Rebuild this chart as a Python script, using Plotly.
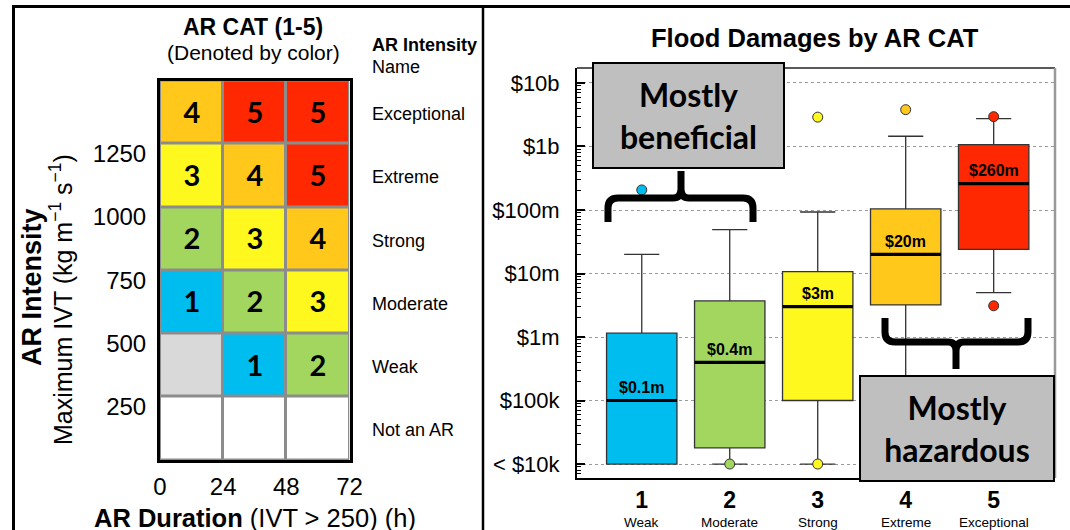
import numpy as np
import plotly.graph_objects as go

W, H = 1070, 530

# ---------------- AR CAT matrix (left panel) ----------------
duration_edges = [0, 24, 48, 72]
ivt_edges = [0, 250, 500, 750, 1000, 1250, 1500]
# rows from the lowest IVT bin upward; -1 = not an AR, 0 = no category
cat_matrix = [
    [-1, -1, -1],
    [0, 1, 2],
    [1, 2, 3],
    [2, 3, 4],
    [3, 4, 5],
    [4, 5, 5],
]
intensity_names = ["Not an AR", "Weak", "Moderate", "Strong", "Extreme", "Exceptional"]
ivt_ticks = [250, 500, 750, 1000, 1250]
duration_ticks = [0, 24, 48, 72]

# ---------------- Flood damages (right panel) ----------------
categories = [1, 2, 3, 4, 5]
category_names = ["Weak", "Moderate", "Strong", "Extreme", "Exceptional"]
cat_colors = ["#00BDF0", "#A3D65E", "#FFF81E", "#FFC81A", "#FF2800"]
q1 = [1e4, 1.8e4, 1e5, 3.2e6, 2.4e7]
median = [1e5, 4e5, 3e6, 2e7, 2.6e8]
q3 = [1.15e6, 3.7e6, 1.07e7, 1.04e8, 1.07e9]
lower_fence = [1e4, 1e4, 1e4, 1e4, 5e6]
upper_fence = [2e7, 4.9e7, 9.3e7, 1.45e9, 2.75e9]
outlier_cat = [1, 2, 3, 3, 4, 5, 5]
outlier_val = [2.07e8, 1e4, 1e4, 2.9e9, 3.8e9, 2.95e9, 3.1e6]
median_labels = ["$0.1m", "$0.4m", "$3m", "$20m", "$260m"]
damage_ticks = [1e4, 1e5, 1e6, 1e7, 1e8, 1e9, 1e10]
damage_ticktext = ["< $10k", "$100k", "$1m", "$10m", "$100m", "$1b", "$10b"]

ARIAL = "Liberation Sans, Arial, sans-serif"
CALIBRI = "Lato, Carlito, Calibri, sans-serif"
BOX_WIDTH = 0.8


def px(x, y):
    """pixel position -> paper coordinates"""
    return x / W, 1 - y / H


def px_path(segments):
    out = []
    for cmd, pts in segments:
        coords = " ".join("%.5f,%.5f" % px(x, y) for x, y in pts)
        out.append(f"{cmd} {coords}")
    return " ".join(out)


fig = go.Figure()

# ---- heatmap of AR categories ----
level_colors = ["#FFFFFF", "#D9D9D9"] + cat_colors
n_lv = len(level_colors)
colorscale = []
for i, c in enumerate(level_colors):
    colorscale += [[i / n_lv, c], [(i + 1) / n_lv, c]]

cell_text = [[str(v) if v > 0 else "" for v in row] for row in cat_matrix]

fig.add_trace(go.Heatmap(
    x=duration_edges, y=ivt_edges, z=cat_matrix,
    zmin=-1.5, zmax=5.5, colorscale=colorscale, showscale=False,
    xgap=3, ygap=3,
    text=cell_text, texttemplate="<b>%{text}</b>",
    textfont=dict(family=CALIBRI, size=29, color="black"),
    hoverinfo="skip", xaxis="x", yaxis="y",
))

# ---- box plots of flood damages ----
for c, col, a, m, b, lo, hi in zip(categories, cat_colors, q1, median, q3,
                                   lower_fence, upper_fence):
    fig.add_trace(go.Box(
        x=[c], q1=[a], median=[m], q3=[b], lowerfence=[lo], upperfence=[hi],
        width=BOX_WIDTH, whiskerwidth=0.5, boxpoints=False,
        fillcolor=col, line=dict(color="#333333", width=1.3),
        xaxis="x2", yaxis="y2", showlegend=False, hoverinfo="skip",
    ))
    # heavier median bar
    fig.add_trace(go.Scatter(
        x=[c - BOX_WIDTH / 2, c + BOX_WIDTH / 2], y=[m, m], mode="lines",
        line=dict(color="black", width=3.2), xaxis="x2", yaxis="y2",
        showlegend=False, hoverinfo="skip",
    ))

fig.add_trace(go.Scatter(
    x=outlier_cat, y=outlier_val, mode="markers",
    marker=dict(size=10, color=[cat_colors[c - 1] for c in outlier_cat],
                line=dict(color="#333333", width=1)),
    xaxis="x2", yaxis="y2", showlegend=False, hoverinfo="skip",
))

annotations = []

# median value labels
for c, m, lab in zip(categories, median, median_labels):
    annotations.append(dict(
        x=c, y=np.log10(m), xref="x2", yref="y2", text=f"<b>{lab}</b>",
        showarrow=False, yshift=13, xanchor="center", yanchor="middle",
        font=dict(family=ARIAL, size=16, color="black"),
    ))

# category names under the numbers
for c, name in zip(categories, category_names):
    xx, yy = px(0, 522)
    annotations.append(dict(
        x=c, y=yy, xref="x2", yref="paper", text=name, showarrow=False,
        xanchor="center", yanchor="middle",
        font=dict(family=ARIAL, size=13.5, color="black"),
    ))

# intensity names beside each row
row_centers = [(lo + hi) / 2 for lo, hi in zip(ivt_edges[:-1], ivt_edges[1:])]
for yc, name in zip(row_centers, intensity_names):
    annotations.append(dict(
        x=370 / W, y=yc, xref="paper", yref="y", text=name, showarrow=False,
        xanchor="left", yanchor="middle", yshift=-2,
        font=dict(family=ARIAL, size=18, color="black"),
    ))


def text_at(x, y, text, size, **kw):
    px_x, px_y = px(x, y)
    d = dict(x=px_x, y=px_y, xref="paper", yref="paper", text=text,
             showarrow=False, xanchor="center", yanchor="middle",
             font=dict(family=kw.pop("family", ARIAL), size=size, color="black"))
    d.update(kw)
    annotations.append(d)


text_at(253, 27, "<b>AR CAT (1-5)</b>", 23)
text_at(253, 53, "(Denoted by color)", 21)
text_at(370, 45, "<b>AR Intensity</b>", 18, xanchor="left")
text_at(370, 67, "Name", 18, xanchor="left")
text_at(32, 287, "<b>AR Intensity</b>", 27, textangle=-90)
text_at(61, 300, "Maximum IVT (kg m<sup>\u22121</sup> s<sup>\u22121</sup>)", 25, textangle=-90)
text_at(255, 518, "<b>AR Duration</b> (IVT &gt; 250) (h)", 25.5)
text_at(815, 38, "<b>Flood Damages by AR CAT</b>", 25.5)

# callout boxes
text_at(688.5, 115.5, "<b>Mostly<br>beneficial</b>", 32, family=CALIBRI,
        bgcolor="#BFBFBF", bordercolor="black", borderwidth=2, borderpad=0,
        width=189, height=103)
text_at(957, 428.5, "<b>Mostly<br>hazardous</b>", 32, family=CALIBRI,
        bgcolor="#BFBFBF", bordercolor="black", borderwidth=2, borderpad=0,
        width=192, height=103)

shapes = []
# grey grid behind the heatmap cells
shapes.append(dict(type="rect", xref="x", yref="y", x0=duration_edges[0],
                   x1=duration_edges[-1], y0=ivt_edges[0], y1=ivt_edges[-1],
                   fillcolor="#8C8C8C", line=dict(width=0), layer="below"))

# curly braces
brace_up = px_path([
    ("M", [(608, 222)]), ("L", [(608, 208)]), ("Q", [(608, 198), (618, 198)]),
    ("L", [(673, 198)]), ("Q", [(681, 198), (681, 189)]), ("L", [(681, 171)]),
    ("M", [(681, 189)]), ("Q", [(681, 198), (689, 198)]), ("L", [(743, 198)]),
    ("Q", [(753, 198), (753, 208)]), ("L", [(753, 222)]),
])
brace_down = px_path([
    ("M", [(885, 318)]), ("L", [(885, 332)]), ("Q", [(885, 342), (895, 342)]),
    ("L", [(948, 342)]), ("Q", [(956, 342), (956, 351)]), ("L", [(956, 369)]),
    ("M", [(956, 351)]), ("Q", [(956, 342), (964, 342)]), ("L", [(1018, 342)]),
    ("Q", [(1028, 342), (1028, 332)]), ("L", [(1028, 318)]),
])
for p in (brace_up, brace_down):
    shapes.append(dict(type="path", path=p, xref="paper", yref="paper",
                       line=dict(color="black", width=7), layer="above"))

# right panel top/right frame
shapes.append(dict(type="line", xref="x2 domain", yref="y2 domain",
                   x0=0, x1=1, y0=1, y1=1, line=dict(color="#222222", width=1.5)))
shapes.append(dict(type="line", xref="x2 domain", yref="y2 domain",
                   x0=1, x1=1, y0=0, y1=1, line=dict(color="#999999", width=2.5)))

# outer frame and panel divider
for (x0, y0, x1, y1, w) in [(13.5, 5, 13.5, 530, 3), (12, 6.5, 1070, 6.5, 3),
                            (483, 5, 483, 530, 2.5)]:
    a0, b0 = px(x0, y0)
    a1, b1 = px(x1, y1)
    shapes.append(dict(type="line", xref="paper", yref="paper", x0=a0, y0=b0,
                       x1=a1, y1=b1, line=dict(color="black", width=w)))

fig.update_layout(
    width=W, height=H, margin=dict(l=0, r=0, t=0, b=0, autoexpand=False),
    paper_bgcolor="white", plot_bgcolor="white",
    font=dict(family=ARIAL, color="black"),
    showlegend=False,
    annotations=annotations, shapes=shapes,
    xaxis=dict(
        domain=[160 / W, 349.5 / W], range=[duration_edges[0], duration_edges[-1]],
        tickmode="array", tickvals=duration_ticks, ticks="",
        tickfont=dict(size=24, family=ARIAL), ticklabelstandoff=3,
        showgrid=False, zeroline=False, automargin=False,
        showline=True, linecolor="black", linewidth=3, mirror=True,
        anchor="y",
    ),
    yaxis=dict(
        domain=[1 - 460 / H, 1 - 80.5 / H], range=[ivt_edges[0], ivt_edges[-1]],
        tickmode="array", tickvals=ivt_ticks, ticks="",
        tickfont=dict(size=24, family=ARIAL), ticklabelstandoff=6,
        ticklabelshift=10,
        showgrid=False, zeroline=False, automargin=False,
        showline=True, linecolor="black", linewidth=3, mirror=True,
        anchor="x",
    ),
    xaxis2=dict(
        domain=[577 / W, 1055 / W], range=[0.264, 5.697],
        tickmode="array", tickvals=categories,
        ticktext=[f"<b>{c}</b>" for c in categories], ticks="",
        tickfont=dict(size=23, family=ARIAL), ticklabelstandoff=0,
        showgrid=False, zeroline=False, automargin=False,
        showline=True, linecolor="black", linewidth=2,
        anchor="y2",
    ),
    yaxis2=dict(
        domain=[1 - 478 / H, 1 - 68 / H], type="log", range=[3.78, 10.236],
        tickmode="array", tickvals=damage_ticks, ticktext=damage_ticktext,
        ticks="inside", ticklen=8, tickwidth=1.5, tickcolor="black",
        minor=dict(dtick="D1", ticks="inside", ticklen=4, tickcolor="black",
                   tickwidth=1, showgrid=False),
        tickfont=dict(size=22, family=ARIAL), ticklabelstandoff=11,
        showgrid=True, gridcolor="#9A9A9A", griddash="dot", gridwidth=1,
        zeroline=False, automargin=False,
        showline=True, linecolor="black", linewidth=2,
        anchor="x2",
    ),
)

fig.write_html("out.html")
